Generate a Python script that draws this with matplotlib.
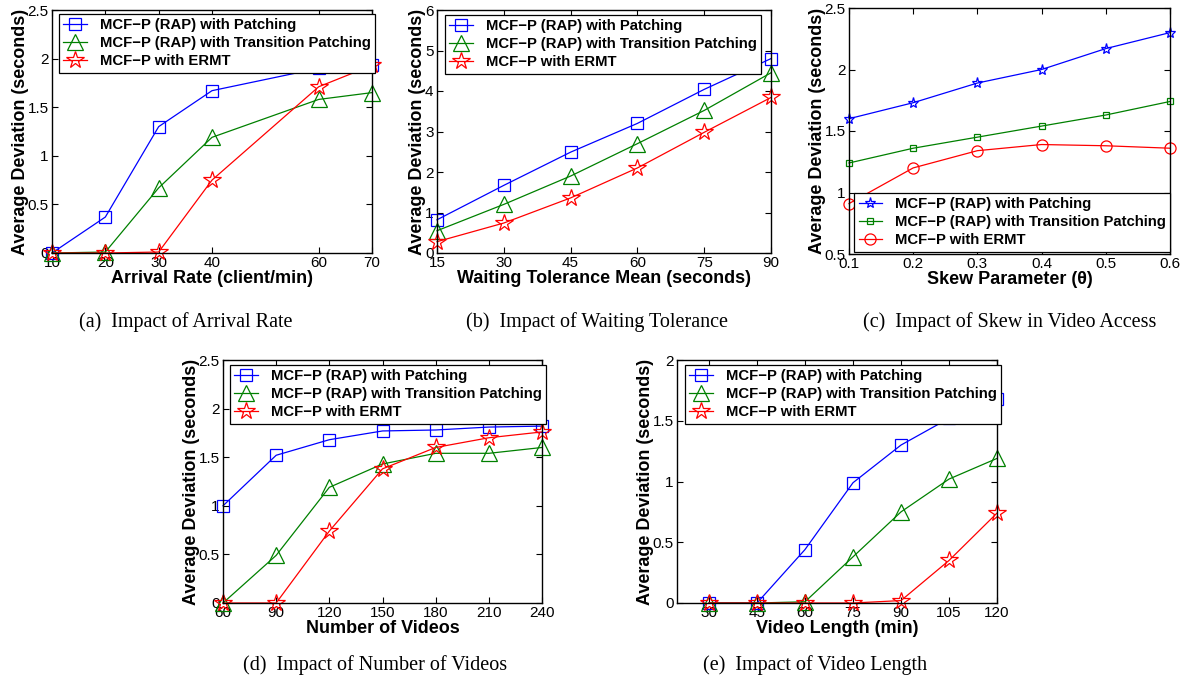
import matplotlib
matplotlib.use('Agg')
import matplotlib.pyplot as plt
from matplotlib.ticker import FormatStrFormatter

plt.rcParams['font.family'] = ['Liberation Sans', 'DejaVu Sans']

W, H = 1186, 688

labels = ['MCF\u2212P (RAP) with Patching',
          'MCF\u2212P (RAP) with Transition Patching',
          'MCF\u2212P with ERMT']
colors = ['#0000ff', '#008000', '#ff0000']

# (a) arrival rate
rate = [10, 20, 30, 40, 60, 70]
rate_patch = [0.0, 0.37, 1.30, 1.67, 1.90, 1.93]
rate_trans = [0.0, 0.01, 0.67, 1.19, 1.58, 1.65]
rate_ermt = [0.0, 0.0, 0.01, 0.75, 1.71, 1.93]

# (b) waiting tolerance
wait = [15, 30, 45, 60, 75, 90]
wait_patch = [0.82, 1.67, 2.49, 3.20, 4.04, 4.80]
wait_trans = [0.55, 1.20, 1.90, 2.70, 3.52, 4.45]
wait_ermt = [0.28, 0.74, 1.36, 2.10, 2.98, 3.84]

# (c) skew
skew = [0.1, 0.2, 0.3, 0.4, 0.5, 0.6]
skew_patch = [1.60, 1.73, 1.89, 2.00, 2.17, 2.30]
skew_trans = [1.24, 1.36, 1.45, 1.54, 1.63, 1.74]
skew_ermt = [0.91, 1.20, 1.34, 1.39, 1.38, 1.36]

# (d) number of videos
nvid = [60, 90, 120, 150, 180, 210, 240]
nvid_patch = [1.00, 1.52, 1.68, 1.77, 1.78, 1.81, 1.82]
nvid_trans = [0.0, 0.49, 1.19, 1.43, 1.54, 1.54, 1.60]
nvid_ermt = [0.0, 0.0, 0.74, 1.38, 1.60, 1.70, 1.76]

# (e) video length
vlen = [30, 45, 60, 75, 90, 105, 120]
vlen_patch = [0.0, 0.0, 0.44, 0.99, 1.30, 1.52, 1.68]
vlen_trans = [0.0, 0.0, 0.01, 0.38, 0.75, 1.02, 1.19]
vlen_ermt = [0.0, 0.0, 0.0, 0.0, 0.02, 0.35, 0.74]

captions = ['(a)  Impact of Arrival Rate', '(b)  Impact of Waiting Tolerance',
            '(c)  Impact of Skew in Video Access', '(d)  Impact of Number of Videos',
            '(e)  Impact of Video Length']


def make_ax(fig, l, r, t, b):
    ax = fig.add_axes([l / W, 1 - b / H, (r - l) / W, (b - t) / H])
    ax.tick_params(direction='in', top=True, right=True, length=4, width=0.8,
                   labelsize=11, pad=2.5)
    for s in ax.spines.values():
        s.set_linewidth(1.0)
    ax.yaxis.set_major_formatter(FormatStrFormatter('%g'))
    ax.xaxis.set_major_formatter(FormatStrFormatter('%g'))
    return ax


def draw(ax, x, series, markers, sizes, xlabel, xlim, ylim, yticks, leg_loc, leg_anchor):
    for y, c, m, ms, lab in zip(series, colors, markers, sizes, labels):
        ax.plot(x, y, color=c, marker=m, markersize=ms, markerfacecolor='none',
                markeredgecolor=c, lw=0.9, mew=0.9, label=lab, clip_on=False)
    ax.set_xlim(*xlim)
    ax.set_ylim(*ylim)
    ax.set_xticks(x)
    ax.set_yticks(yticks)
    ax.set_xlabel(xlabel, fontsize=13, fontweight='bold', labelpad=0)
    ax.set_ylabel('Average Deviation (seconds)', fontsize=13, fontweight='bold', labelpad=-1)
    leg = ax.legend(loc=leg_loc, bbox_to_anchor=leg_anchor, fancybox=False, framealpha=1,
                    edgecolor='black', prop={'weight': 'bold', 'size': 10.7},
                    handlelength=1.6, borderpad=0.28, labelspacing=0.28,
                    handletextpad=0.85, borderaxespad=0)
    leg.get_frame().set_linewidth(0.9)
    leg.set_zorder(5)


fig = plt.figure(figsize=(W / 100, H / 100), dpi=100)

big = ['s', '^', '*']
big_sz = [9, 12, 13]

ax = make_ax(fig, 52, 372, 10, 253)
draw(ax, rate, [rate_patch, rate_trans, rate_ermt], big, big_sz,
     'Arrival Rate (client/min)', (10, 70), (0, 2.5), [0, 0.5, 1, 1.5, 2, 2.5],
     'upper left', (0.022, 0.984))

ax = make_ax(fig, 437, 771, 10, 253)
draw(ax, wait, [wait_patch, wait_trans, wait_ermt], big, big_sz,
     'Waiting Tolerance Mean (seconds)', (15, 90), (0, 6), [0, 1, 2, 3, 4, 5, 6],
     'upper left', (0.024, 0.98))

ax = make_ax(fig, 849, 1170, 8, 254)
draw(ax, skew, [skew_patch, skew_trans, skew_ermt], ['*', 's', 'o'], [8, 5, 8],
     'Skew Parameter (\u03b8)', (0.1, 0.6), (0.5, 2.5), [0.5, 1, 1.5, 2, 2.5],
     'lower right', (1.0, 0.01))

ax = make_ax(fig, 223, 542, 360, 603)
draw(ax, nvid, [nvid_patch, nvid_trans, nvid_ermt], big, big_sz,
     'Number of Videos', (60, 240), (0, 2.5), [0, 0.5, 1, 1.5, 2, 2.5],
     'upper left', (0.022, 0.98))

ax = make_ax(fig, 677, 997, 360, 603)
draw(ax, vlen, [vlen_patch, vlen_trans, vlen_ermt], big, big_sz,
     'Video Length (min)', (20, 120), (0, 2), [0, 0.5, 1, 1.5, 2],
     'upper left', (0.025, 0.98))

cap_pos = [(186, 322), (597, 322), (1010, 322), (375, 665), (815, 665)]
for (cx, cy), txt in zip(cap_pos, captions):
    fig.text(cx / W, 1 - cy / H, txt, ha='center', va='center', fontsize=14.5,
             family=['Liberation Serif', 'DejaVu Serif'])

fig.savefig('out.png', dpi=100)
